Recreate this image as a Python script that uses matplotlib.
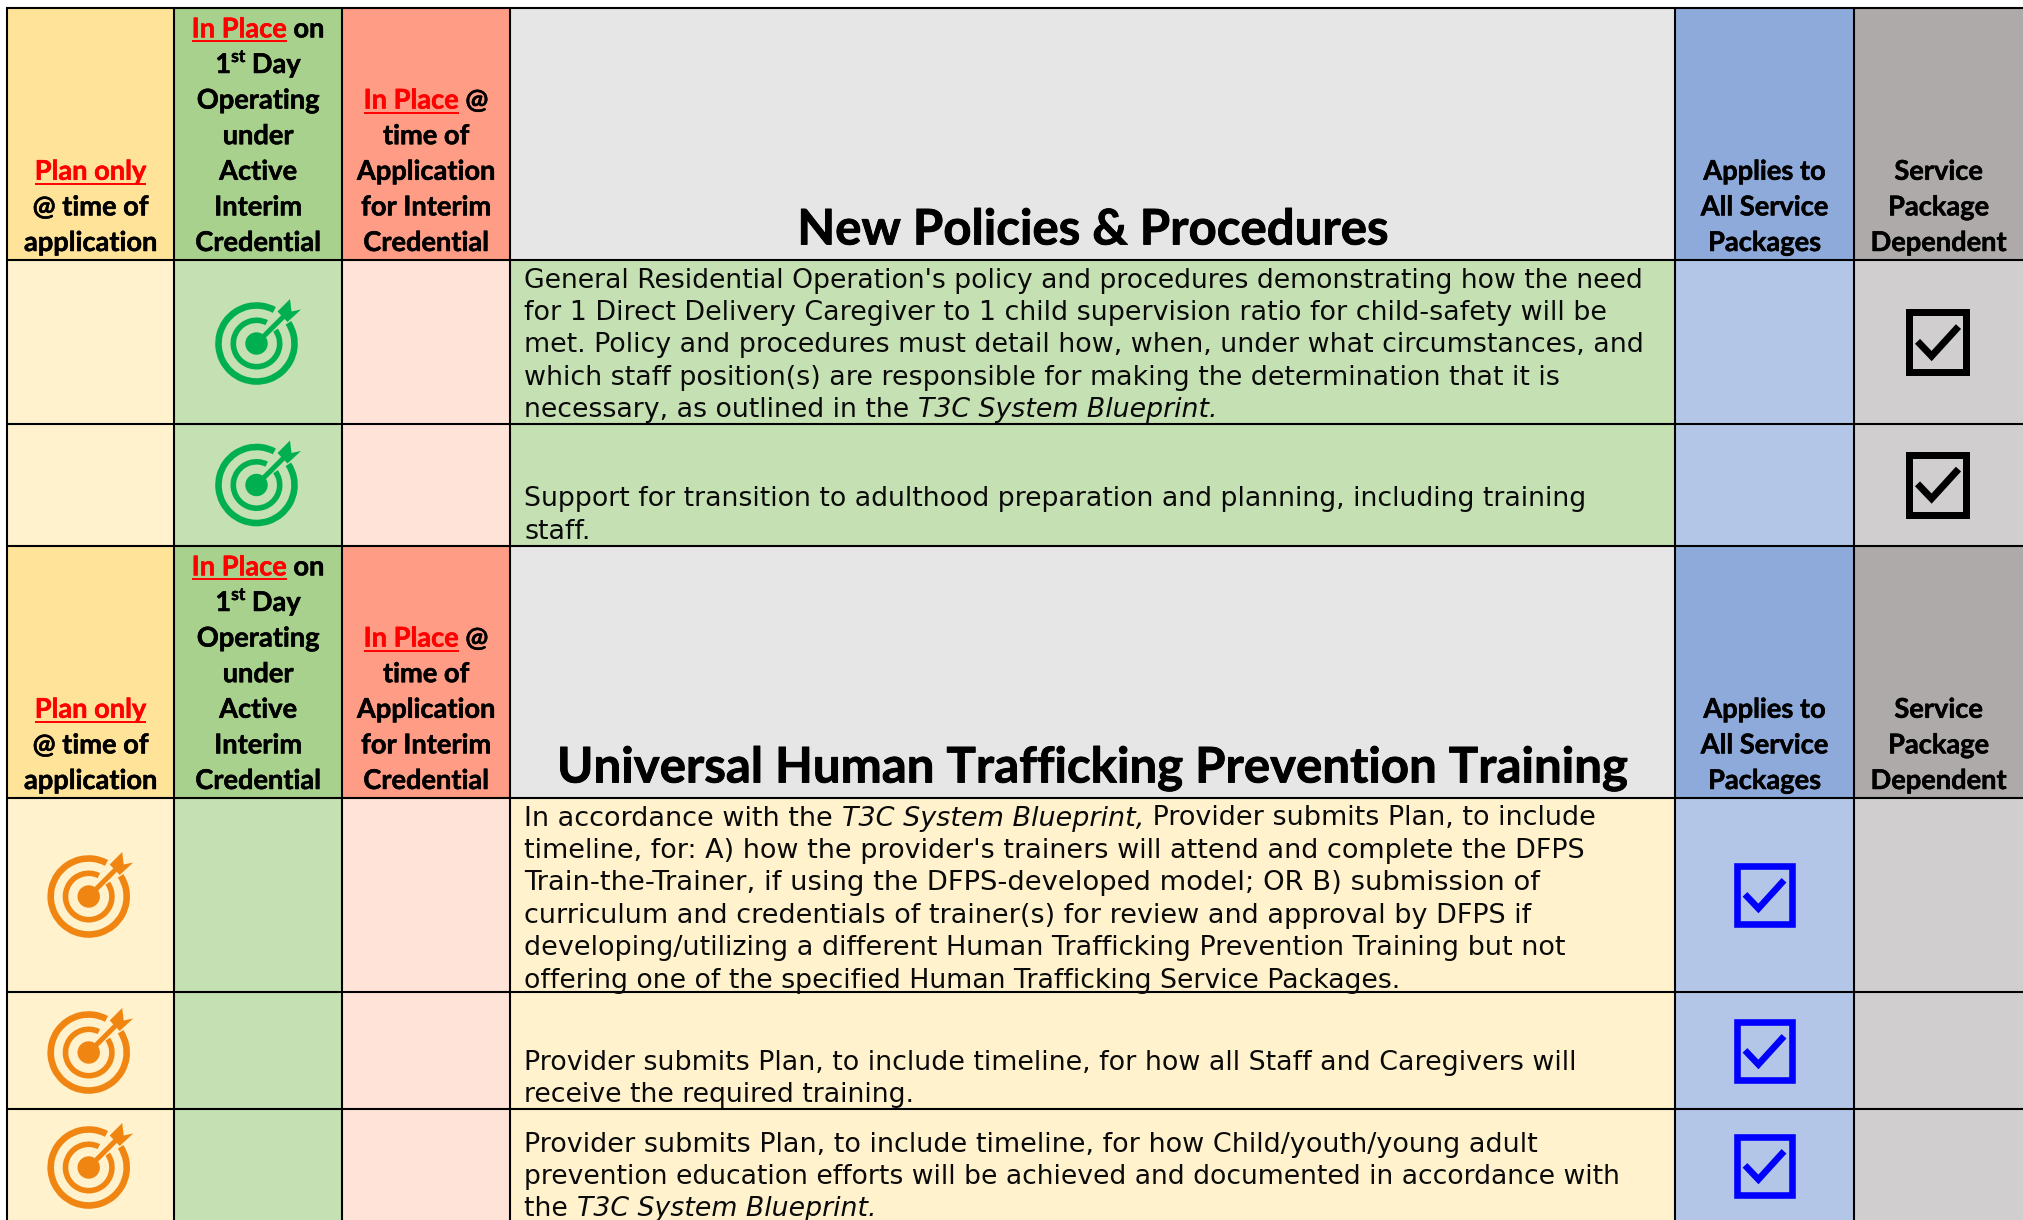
import numpy as np
import matplotlib

matplotlib.use("Agg")
import matplotlib.pyplot as plt
import matplotlib.patheffects as pe
from matplotlib.patches import Circle, Polygon, Rectangle, Wedge

# header cells: each line is a list of (text, kind) runs, kind is n / u / sup
plan_head = [[("Plan only", "u")], [("@ time of", "n")], [("application", "n")]]
first_day_head = [
    [("In Place", "u"), (" on", "n")],
    [("1", "n"), ("st", "sup"), (" Day", "n")],
    [("Operating", "n")],
    [("under", "n")],
    [("Active", "n")],
    [("Interim", "n")],
    [("Credential", "n")],
]
in_place_head = [
    [("In Place", "u"), (" @", "n")],
    [("time of", "n")],
    [("Application", "n")],
    [("for Interim", "n")],
    [("Credential", "n")],
]
applies_head = [[("Applies to", "n")], [("All Service", "n")], [("Packages", "n")]]
service_head = [[("Service", "n")], [("Package", "n")], [("Dependent", "n")]]
titles = ["New Policies & Procedures", "Universal Human Trafficking Prevention Training"]

# body rows, runs are (text, italic)
row_text = [
    [
        [("General Residential Operation's policy and procedures demonstrating how the need", False)],
        [("for 1 Direct Delivery Caregiver to 1 child supervision ratio for child-safety will be", False)],
        [("met. Policy and procedures must detail how, when, under what circumstances, and", False)],
        [("which staff position(s) are responsible for making the determination that it is", False)],
        [("necessary, as outlined in the ", False), ("T3C System Blueprint.", True)],
    ],
    [
        [("Support for transition to adulthood preparation and planning, including training", False)],
        [("staff.", False)],
    ],
    [
        [("In accordance with the ", False), ("T3C System Blueprint,", True), (" Provider submits Plan, to include", False)],
        [("timeline, for: A) how the provider's trainers will attend and complete the DFPS", False)],
        [("Train-the-Trainer, if using the DFPS-developed model; OR B) submission of", False)],
        [("curriculum and credentials of trainer(s) for review and approval by DFPS if", False)],
        [("developing/utilizing a different Human Trafficking Prevention Training but not", False)],
        [("offering one of the specified Human Trafficking Service Packages.", False)],
    ],
    [
        [("Provider submits Plan, to include timeline, for how all Staff and Caregivers will", False)],
        [("receive the required training.", False)],
    ],
    [
        [("Provider submits Plan, to include timeline, for how Child/youth/young adult", False)],
        [("prevention education efforts will be achieved and documented in accordance with", False)],
        [("the ", False), ("T3C System Blueprint.", True)],
    ],
]
row_target = ["first_day", "first_day", "plan", "plan", "plan"]
row_check = ["service", "service", "applies", "applies", "applies"]

# layout in pixels
col_x = [7, 174, 342, 510, 1675, 1854, 2023]
line_y = [8, 259.5, 424, 546, 798, 992, 1109, 1221]
head_rows = [(8, 259.5), (546, 798)]
body_rows = [(259.5, 424), (424, 546), (798, 992), (992, 1109), (1109, 1221)]
row_first_base = [287.5, 506.5, 825.5, 1069.5, 1151.5]
# right end of every body line, the font differs a little so each line is fitted
row_line_end = [
    [1642.6, 1605, 1640.6, 1559, 1218],
    [1588, 591],
    [1591.7, 1579.4, 1537.3, 1527, 1564, 1402],
    [1576.7, 913.7],
    [1536, 1616.5, 876.6],
]
target_y = [343.5, 485, 896.5, 1052.5, 1167.5]
check_y = [342, 484.5, 895, 1051, 1166]
body_gap = 32.4
head_gap = 35.6

head_colors = ["#FFE399", "#A9D18E", "#FF9C85", "#E6E6E6", "#8EAADB", "#AEAAAA"]
light_colors = ["#FFF2CC", "#C5E0B3", "#FFE3D8", None, "#B4C6E7", "#D0CECE"]
text_green = "#C5E0B3"
text_yellow = "#FFF2CC"
target_green = "#00B050"
target_orange = "#F18512"

head_font = "Lato"
body_font = "DejaVu Sans"
head_size = 19.6
title_size = 35.4
body_size = 19.27
text_left = 524.5

fig = plt.figure(figsize=[20.23, 12.2], dpi=100)
ax = fig.add_axes([0, 0, 1, 1])
ax.set_xlim(0, 2023)
ax.set_ylim(1220, 0)
ax.axis("off")
renderer = fig.canvas.get_renderer()


def run_width(s, **kw):
    # trailing spaces have no ink, so measure against a bar
    t1 = ax.text(0, 0, s + "|", **kw)
    t2 = ax.text(0, 0, "|", **kw)
    w = t1.get_window_extent(renderer).width - t2.get_window_extent(renderer).width
    t1.remove()
    t2.remove()
    return w


def bold_text(x, y, s, size, color, lw=0.35, **kw):
    # Lato Bold is a bit lighter than the original header face
    t = ax.text(x, y, s, fontsize=size, family=head_font, weight="bold", va="baseline", color=color, **kw)
    t.set_path_effects([pe.withStroke(linewidth=lw, foreground=color)])
    return t


def draw_head_line(runs, cx, y):
    kw = dict(family=head_font, weight="bold")
    widths = []
    for s, kind in runs:
        size = head_size * 0.64 if kind == "sup" else head_size
        widths.append(run_width(s, fontsize=size, **kw))
    x = cx - sum(widths) / 2
    for (s, kind), w in zip(runs, widths):
        if kind == "sup":
            bold_text(x, y - 11, s, head_size * 0.64, "black")
        elif kind == "u":
            bold_text(x, y, s, head_size, "#FF0000")
            ax.plot([x, x + w], [y + 4, y + 4], color="#FF0000", lw=1.4, solid_capstyle="butt")
        else:
            bold_text(x, y, s, head_size, "black")
        x += w


def draw_target(cx, cy, color):
    # rings are open where the arrow goes through, y axis is flipped
    ax.add_patch(Wedge((cx, cy), 41.3, -33, 298, width=6.6, fc=color, ec="none"))
    ax.add_patch(Wedge((cx, cy), 26, -35, 296, width=5.6, fc=color, ec="none"))
    ax.add_patch(Circle((cx, cy), 11.2, fc=color, ec="none"))
    ax.plot([cx, cx + 28], [cy, cy - 28], color=color, lw=3.6, solid_capstyle="butt")
    head = np.array(
        [[21, -32], [33.5, -44.5], [35, -32], [44.5, -34], [31, -21.5]]
    )
    ax.add_patch(Polygon(head + [cx, cy], closed=True, fc=color, ec="none"))


def draw_check(x0, cy, w, h, lw_px, color):
    y0 = cy - h / 2
    ax.add_patch(
        Rectangle(
            (x0 + lw_px / 2, y0 + lw_px / 2), w - lw_px, h - lw_px,
            fc="none", ec=color, lw=lw_px * 0.72, joinstyle="miter",
        )
    )
    xs = x0 + np.array([0.18, 0.40, 0.82]) * w
    ys = y0 + np.array([0.49, 0.71, 0.27]) * h
    ax.plot(xs, ys, color=color, lw=lw_px * 0.72, solid_joinstyle="miter", solid_capstyle="butt")


# cell fills
for top, bot in head_rows:
    for i, c in enumerate(head_colors):
        ax.add_patch(Rectangle((col_x[i], top), col_x[i + 1] - col_x[i], bot - top, fc=c, ec="none"))
for r, (top, bot) in enumerate(body_rows):
    for i, c in enumerate(light_colors):
        if c is None:
            c = text_green if r < 2 else text_yellow
        ax.add_patch(Rectangle((col_x[i], top), col_x[i + 1] - col_x[i], bot - top, fc=c, ec="none"))

# grid
for x in col_x[:-1]:
    ax.plot([x, x], [8, 1221], color="black", lw=1.5, solid_capstyle="butt", zorder=3)
for y in line_y[:-1]:
    ax.plot([6, 2023], [y, y], color="black", lw=1.5, solid_capstyle="butt", zorder=3)

# headers
head_cols = [plan_head, first_day_head, in_place_head, None, applies_head, service_head]
for b, (top, bot) in enumerate(head_rows):
    base = 251 + top - 8
    for i, lines in enumerate(head_cols):
        if lines is None:
            continue
        cx = (col_x[i] + col_x[i + 1]) / 2
        for k, runs in enumerate(lines):
            draw_head_line(runs, cx, base - head_gap * (len(lines) - 1 - k))
    bold_text(1093, 244.5 + top - 8, titles[b], title_size, "black", lw=0.6, ha="center")

# body
for r, lines in enumerate(row_text):
    for k, runs in enumerate(lines):
        natural = sum(
            run_width(s, fontsize=body_size, family=body_font, style="italic" if it else "normal")
            for s, it in runs
        )
        size = body_size * (row_line_end[r][k] - text_left) / natural
        x = text_left
        y = row_first_base[r] + body_gap * k
        for s, italic in runs:
            style = "italic" if italic else "normal"
            ax.text(x, y, s, fontsize=size, family=body_font, style=style, va="baseline", color="#0A0A0A")
            x += run_width(s, fontsize=size, family=body_font, style=style)

    if row_target[r] == "first_day":
        draw_target(256.5, target_y[r], target_green)
    else:
        draw_target(88.7, target_y[r], target_orange)
    if row_check[r] == "service":
        draw_check(1906, check_y[r], 64, 67, 7, "black")
    else:
        draw_check(1734, check_y[r], 61, 64, 6.6, "#0000FF")

fig.savefig("out.png", dpi=100)
